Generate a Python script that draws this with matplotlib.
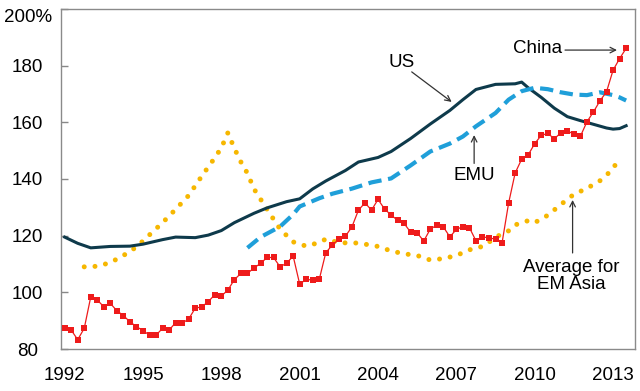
import numpy as np
import matplotlib
matplotlib.use("Agg")
import matplotlib.pyplot as plt
from matplotlib import font_manager

# quarterly debt ratios, % of GDP, first quarter = 1992Q1
china = [87.3, 86.7, 83.3, 87.3, 98.4, 97.3, 94.9, 96.1, 93.5, 91.8,
         89.6, 87.9, 86.5, 84.9, 84.9, 87.3, 86.7, 89.3, 89.1, 90.6,
         94.4, 94.9, 96.7, 99.2, 98.7, 100.8, 104.5, 106.7, 106.7, 108.6,
         110.2, 112.3, 112.3, 109.0, 110.3, 112.8, 102.9, 104.6, 104.3, 104.6,
         114.0, 116.7, 118.7, 119.8, 123.1, 129.0, 131.6, 129.0, 132.8, 129.4,
         127.3, 125.4, 124.3, 121.2, 121.0, 118.1, 122.3, 123.7, 123.1, 119.6,
         122.2, 123.2, 122.8, 118.2, 119.6, 119.2, 118.8, 117.5, 131.5, 142.1,
         147.0, 148.5, 152.5, 155.4, 156.1, 154.2, 156.3, 157.0, 155.8, 155.1,
         160.2, 163.7, 167.6, 170.8, 178.4, 182.5, 186.1]

us_q = [0, 2, 4, 7, 10, 12, 15, 17, 20, 22, 24, 26, 29, 31, 34, 36, 38, 40,
        43, 45, 48, 50, 53, 56, 59, 61, 63, 66, 69, 70, 71, 73, 75, 77, 79,
        81, 83, 84, 85, 86]
us = [119.5, 117.3, 115.7, 116.2, 116.3, 117.0, 118.6, 119.5, 119.3, 120.2,
      121.8, 124.6, 127.9, 129.8, 132.0, 133.0, 136.5, 139.3, 143.0, 146.0,
      147.6, 149.7, 154.3, 159.4, 164.2, 168.0, 171.6, 173.4, 173.6, 174.2,
      172.2, 168.8, 165.0, 162.0, 160.6, 159.3, 158.0, 157.6, 157.8, 158.8]

emu_q = [28, 30, 33, 35, 36, 39, 41, 44, 47, 50, 53, 56, 59, 61, 63, 66, 68,
         70, 72, 74, 76, 78, 80, 82, 84, 85, 86]
emu = [115.7, 119.5, 123.2, 127.5, 130.3, 133.2, 134.8, 136.6, 138.8, 140.2,
       144.8, 149.7, 152.5, 155.0, 158.6, 163.3, 168.0, 171.0, 172.2, 171.7,
       170.6, 169.8, 169.6, 170.6, 169.6, 168.8, 167.7]

asia_q = [3, 5, 7, 9, 11, 13, 15, 17, 19, 21, 23, 24, 25, 26, 27, 28, 29, 31,
          33, 35, 37, 39, 40, 42, 45, 48, 50, 52, 54, 56, 58, 60, 62, 64, 67,
          68, 69, 71, 72, 74, 76, 78, 80, 82, 84, 85]
asia = [109.0, 109.2, 110.5, 113.0, 116.0, 120.3, 124.6, 129.3, 134.2, 141.0,
        147.5, 151.0, 156.3, 150.8, 146.0, 142.0, 136.5, 129.3, 122.3, 117.8,
        116.3, 117.6, 118.8, 117.5, 117.4, 116.2, 114.6, 113.6, 113.0, 111.4,
        111.9, 113.0, 115.0, 116.2, 120.8, 121.7, 123.8, 125.3, 124.6, 127.2,
        131.0, 134.6, 136.7, 139.4, 143.5, 148.0]

year_ticks = [1992, 1995, 1998, 2001, 2004, 2007, 2010, 2013]
y_ticks = [80, 100, 120, 140, 160, 180, 200]
y_labels = ["80", "100", "120", "140", "160", "180", "200%"]


def to_year(q):
    return 1992 + np.asarray(q) / 4.0


# narrow Arial-like face if we have it
names = {f.name for f in font_manager.fontManager.ttflist}
if "Liberation Sans Narrow" in names:
    FONT, FS = "Liberation Sans Narrow", 15.5
else:
    FONT, FS = "Liberation Sans", 13.5
plt.rcParams["font.family"] = [FONT, "DejaVu Sans"]

fig = plt.figure(figsize=(6.4, 3.91), dpi=100)
ax = fig.add_axes([0.0953, 0.1074, 0.8969, 0.8696])

ax.plot(to_year(asia_q), asia, color="#f6b700", lw=3.6,
        linestyle=(0, (0.001, 2.15)), dash_capstyle="round", zorder=2)
ax.plot(to_year(us_q), us, color="#0e3a4b", lw=2.2, zorder=3)
ax.plot(to_year(emu_q), emu, color="#1f9fd9", lw=3.0,
        linestyle=(0, (3.2, 1.6)), zorder=3)
ax.plot(to_year(np.arange(len(china))), china, color="#ee1b1b", lw=0.9,
        marker="s", markersize=4.8, markeredgewidth=0, zorder=4)

ax.set_xlim(1991.86, 2013.84)
ax.set_ylim(80, 200)
ax.set_xticks(year_ticks)
ax.set_xticklabels([str(y) for y in year_ticks], fontsize=FS)
ax.set_yticks(y_ticks)
ax.set_yticklabels(y_labels, fontsize=FS)
ax.tick_params(axis="x", length=0, pad=13)
ax.tick_params(axis="y", direction="in", length=5, width=1, color="#888888", pad=24)
for lab in ax.get_yticklabels():
    lab.set_horizontalalignment("center")
ax.get_yticklabels()[-1].set_verticalalignment("top")

for s in ax.spines.values():
    s.set_color("#8a8a8a")
    s.set_linewidth(1.0)

arrow = dict(arrowstyle="->", color="#333333", lw=0.9, shrinkA=0, shrinkB=0)

ax.text(2004.92, 181.2, "US", fontsize=FS, ha="center", va="center")
ax.annotate("", xy=(2006.82, 167.2), xytext=(2005.29, 177.8), arrowprops=arrow)

ax.text(2007.68, 141.4, "EMU", fontsize=FS, ha="center", va="center")
ax.annotate("", xy=(2007.68, 155.5), xytext=(2007.68, 145.5), arrowprops=arrow)

ax.text(2010.11, 186.2, "China", fontsize=FS, ha="center", va="center")
ax.annotate("", xy=(2013.15, 185.5), xytext=(2011.16, 185.5), arrowprops=arrow)

ax.text(2011.41, 105.7, "Average for\nEM Asia", fontsize=FS, ha="center",
        va="center", linespacing=1.0)
ax.annotate("", xy=(2011.45, 132.6), xytext=(2011.45, 113.9), arrowprops=arrow)

fig.savefig("out.png", dpi=100)
